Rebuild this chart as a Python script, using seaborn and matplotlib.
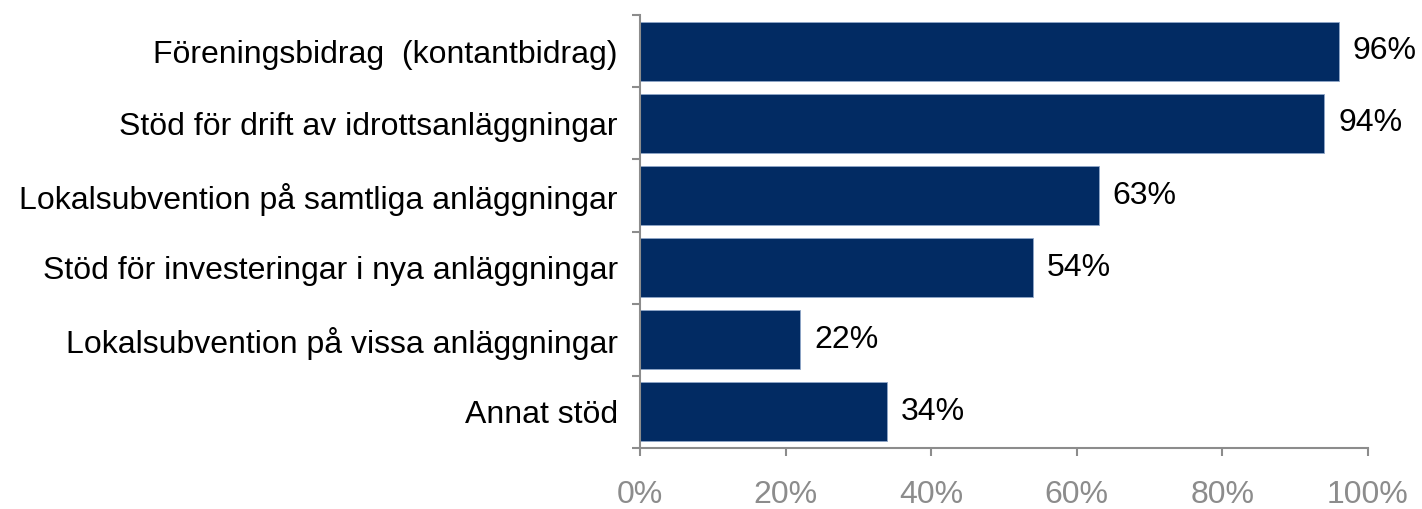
import pandas as pd
import matplotlib
matplotlib.use('Agg')
import matplotlib.pyplot as plt
import seaborn as sns

# Kategorier och andelar (procent)
kategorier = [
    'Föreningsbidrag  (kontantbidrag)',
    'Stöd för drift av idrottsanläggningar',
    'Lokalsubvention på samtliga anläggningar',
    'Stöd för investeringar i nya anläggningar',
    'Lokalsubvention på vissa anläggningar',
    'Annat stöd',
]
andelar = [96, 94, 63, 54, 22, 34]
x_ticks = [0, 20, 40, 60, 80, 100]
x_labels = ['0%', '20%', '40%', '60%', '80%', '100%']

df = pd.DataFrame({'kategori': kategorier, 'andel': andelar})

sns.set_style('white')
plt.rcParams['font.family'] = ['Liberation Sans', 'DejaVu Sans']

fig = plt.figure(figsize=(14.22, 5.09), dpi=100)
ax = fig.add_axes([0.450, 0.120, 0.512, 0.850])

sns.barplot(data=df, x='andel', y='kategori', color='#022b63', width=0.82,
            saturation=1, edgecolor='#8fa6c8', linewidth=0.6, ax=ax)

# Procentetiketter till höger om staplarna
for i, v in enumerate(andelar):
    ax.text(v + 1.9, i, f'{v}%', va='center', ha='left', fontsize=23, color='black')

ax.set_xlim(0, 100)
ax.set_ylim(5.5, -0.5)
ax.set_xticks(x_ticks)
ax.set_xticklabels(x_labels, fontsize=23, color='#8c8c8c')
ax.set_yticks(range(len(kategorier)))
ax.set_yticklabels(kategorier, fontsize=23, color='black')
ax.set_yticks([i - 0.5 for i in range(len(kategorier) + 1)], minor=True)
ax.tick_params(axis='y', which='major', left=False, length=0, pad=16)
ax.tick_params(axis='y', which='minor', left=True, length=6, width=1.5,
               color='#8c8c8c', direction='out')
ax.tick_params(axis='x', bottom=True, length=6, width=1.5, color='#8c8c8c',
               direction='out', pad=17)
ax.set_xlabel('')
ax.set_ylabel('')

for s in ['top', 'right']:
    ax.spines[s].set_visible(False)
for s in ['left', 'bottom']:
    ax.spines[s].set_color('#8c8c8c')
    ax.spines[s].set_linewidth(1.5)

fig.savefig('out.png', dpi=100)
